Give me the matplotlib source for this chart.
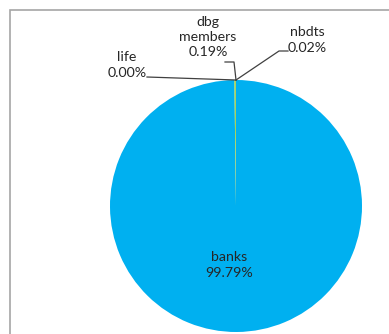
import matplotlib.pyplot as plt

# data
categories = ['banks', 'dbg members', 'nbdts', 'life']
shares = [99.79, 0.19, 0.02, 0.00]
colors = ['#00B0F0', '#92D050', '#FFC000', '#7030A0']

W, H = 389, 334
fig = plt.figure(figsize=(W / 100, H / 100), dpi=100)
ax = fig.add_axes([0, 0, 1, 1])

# pie centre / radius in pixel units (y measured from the bottom)
cx, cy, r = 236, H - 206, 126
ax.pie(shares, colors=colors, startangle=90, counterclock=False,
       center=(cx, cy), radius=r, frame=True,
       wedgeprops=dict(linewidth=0))
ax.set_xlim(0, W)
ax.set_ylim(0, H)
ax.axis('off')

# chart frame (only top and left visible in the crop)
ax.plot([10.5, 10.5, W], [0, H - 9.5, H - 9.5], color='#a6a6a6', lw=1.2,
        solid_joinstyle='miter')

txt = dict(fontsize=10.2, color='#262626', family='Lato', ha='center', va='center',
           linespacing=1.35)

def lab(i):
    return f"{shares[i]:.2f}%"

# banks inside
ax.text(229, H - 265, f"{categories[0]}\n{lab(0)}", **txt)

# outside labels with leader lines
top = (cx, cy + r)
ax.text(208, H - 37, f"dbg\nmembers\n{lab(1)}", **txt)
ax.plot([225, 234, top[0]], [H - 62, H - 62, top[1]], color='#404040', lw=0.9)

ax.text(307, H - 40, f"{categories[2]}\n{lab(2)}", **txt)
ax.plot([top[0], 279, 288], [top[1], H - 51, H - 51], color='#404040', lw=0.9)

ax.text(127, H - 65, f"{categories[3]}\n{lab(3)}", **txt)
ax.plot([147, top[0]], [H - 77, top[1]], color='#404040', lw=0.9)

fig.savefig('out.png', dpi=100)
